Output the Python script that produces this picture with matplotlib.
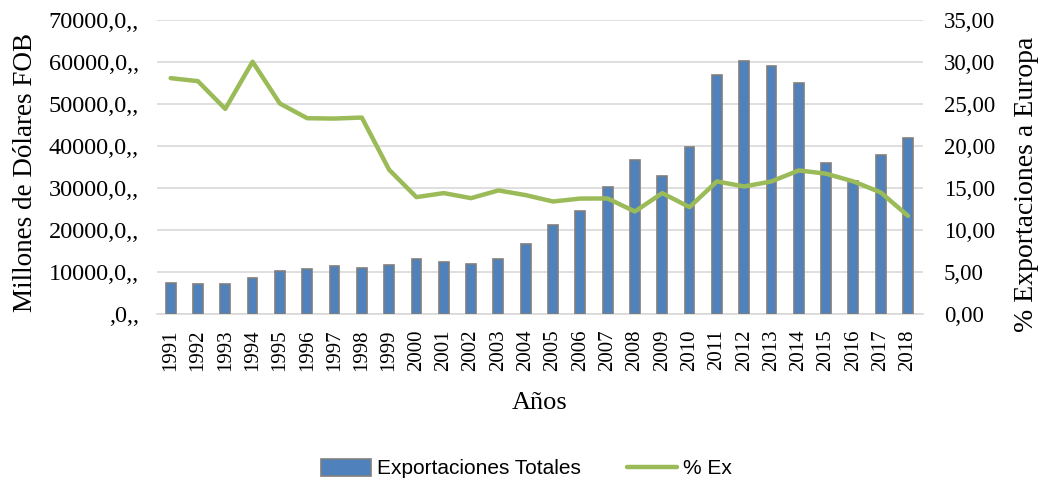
import numpy as np
import matplotlib.pyplot as plt
from matplotlib.ticker import FuncFormatter

years = list(range(1991, 2019))
exportaciones = [7300, 7100, 7250, 8600, 10200, 10700, 11550, 10900, 11700, 13200,
                 12350, 12000, 13150, 16800, 21100, 24600, 30300, 36750, 32950, 39850,
                 56950, 60150, 58950, 54950, 36050, 31750, 37950, 41850]
pct_europa = [28.08, 27.72, 24.42, 30.03, 25.06, 23.31, 23.27, 23.39, 17.18, 13.92,
              14.40, 13.80, 14.72, 14.16, 13.40, 13.75, 13.76, 12.21, 14.40, 12.73,
              15.79, 15.19, 15.79, 17.10, 16.71, 15.79, 14.48, 11.69]

BLUE = "#4F81BD"
GREEN = "#9BBB59"
serif = "Liberation Serif"

fig = plt.figure(figsize=(10.43, 4.84), dpi=100)
ax = fig.add_axes([0.1505, 0.351, 0.7345, 0.6077])
ax2 = ax.twinx()

x = np.arange(len(years))
bars = ax.bar(x, exportaciones, width=0.36, color=BLUE, edgecolor="#7F7F7F", linewidth=1.2,
              label="Exportaciones Totales", zorder=3)
line, = ax2.plot(x, pct_europa, color=GREEN, linewidth=3.2, solid_capstyle="round",
                 label="% Ex", zorder=4)

ax.set_xlim(-0.5, len(years) - 0.45)
ax.set_ylim(0, 70000)
ax2.set_ylim(0, 35)
ax.set_yticks(np.arange(0, 70001, 10000))
ax2.set_yticks(np.arange(0, 35.1, 5))

ax.yaxis.set_major_formatter(FuncFormatter(lambda v, p: ",0,," if v == 0 else "%d,0,," % v))
ax2.yaxis.set_major_formatter(FuncFormatter(lambda v, p: ("%.2f" % v).replace(".", ",")))

ax.grid(axis="y", color="#D9D9D9", linewidth=1.2, zorder=0)
ax.set_axisbelow(True)
for a in (ax, ax2):
    for s in a.spines.values():
        s.set_visible(False)
    a.tick_params(length=0)
ax.spines["bottom"].set_visible(True)
ax.spines["bottom"].set_color("#D9D9D9")
ax.spines["bottom"].set_linewidth(1.2)

ax.set_xticks(x)
ax.set_xticklabels([str(y) for y in years], rotation=90, fontsize=15, family=serif)
for lab in ax.get_yticklabels():
    lab.set_family(serif)
    lab.set_fontsize(17.5)
for lab in ax2.get_yticklabels():
    lab.set_family(serif)
    lab.set_fontsize(16.5)
ax.tick_params(axis="x", pad=11)
ax.tick_params(axis="y", pad=13)
ax2.tick_params(axis="y", pad=15)

ax.set_xlabel("Años", family=serif, fontsize=19, labelpad=15)
ax.set_ylabel("Millones de Dólares FOB", family=serif, fontsize=19.5)
ax2.set_ylabel("% Exportaciones a Europa", family=serif, fontsize=20)
ax.yaxis.set_label_coords(-0.155, 0.483)
ax2.yaxis.set_label_coords(1.119, 0.442)

fig.legend([bars, line], ["Exportaciones Totales", "% Ex"], loc="center",
           bbox_to_anchor=(0.505, 0.032), ncol=2, frameon=False,
           prop={"family": "Liberation Sans", "size": 15},
           handlelength=2.4, handleheight=0.9, columnspacing=2.2, handletextpad=0.3)

fig.savefig("out.png", dpi=100)
